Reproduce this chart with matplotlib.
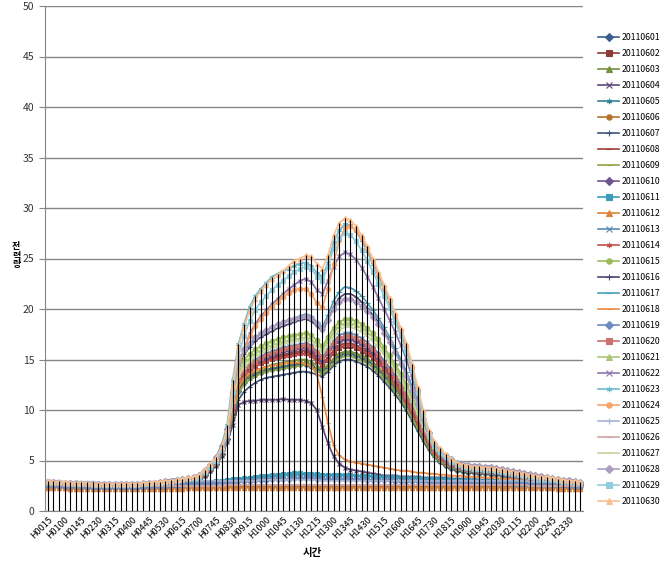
import numpy as np
import matplotlib
matplotlib.use("Agg")
import matplotlib.pyplot as plt

plt.rcParams['font.family'] = ['Noto Sans CJK KR', 'DejaVu Sans']

# 시간 구분 (15분 간격, 96개)
times = ("H0015 H0030 H0045 H0100 H0115 H0130 H0145 H0200 H0215 H0230 H0245 H0300 "
         "H0315 H0330 H0345 H0400 H0415 H0430 H0445 H0500 H0515 H0530 H0545 H0600 "
         "H0615 H0630 H0645 H0700 H0715 H0730 H0745 H0800 H0815 H0830 H0845 H0900 "
         "H0915 H0930 H0945 H1000 H1015 H1030 H1045 H1100 H1115 H1130 H1145 H1200 "
         "H1215 H1230 H1245 H1300 H1315 H1330 H1345 H1400 H1415 H1430 H1445 H1500 "
         "H1515 H1530 H1545 H1600 H1615 H1630 H1645 H1700 H1715 H1730 H1745 H1800 "
         "H1815 H1830 H1845 H1900 H1915 H1930 H1945 H2000 H2015 H2030 H2045 H2100 "
         "H2115 H2130 H2145 H2200 H2215 H2230 H2245 H2300 H2315 H2330 H2345 H2400").split()

dates = ['201106%02d' % d for d in range(1, 31)]

# 일자별 전력량
d01 = [2.7,2.7,2.6,2.6,2.6,2.6,2.5,2.5,2.5,2.5,2.5,2.5,2.5,2.5,2.5,2.5,2.5,2.5,2.6,2.6,2.7,2.7,2.8,2.8,2.9,3.0,3.1,
       3.2,3.6,4.1,4.7,5.6,7.1,9.6,11.9,12.8,
       13.3,13.6,13.8,14.0,14.1,14.2,14.3,14.4,14.5,14.6,14.6,14.4,
       14.1,13.8,14.3,14.9,15.4,
       15.6,15.6,15.4,15.2,14.9,14.5,
       14.0,13.4,12.8,12.1,11.4,10.5,9.5,8.5,7.4,6.4,5.6,5.0,
       4.6,4.3,4.1,4.0,3.9,3.9,3.8,3.8,3.7,3.7,3.6,3.5,3.4,3.3,3.2,3.1,3.0,3.0,2.9,2.9,2.8,2.8,2.7,2.7,2.6]
d02 = [2.8,2.7,2.7,2.7,2.6,2.6,2.6,2.6,2.6,2.5,2.5,2.5,2.5,2.5,2.5,2.5,2.5,2.6,2.6,2.7,2.7,2.8,2.9,2.9,3.0,3.1,3.2,
       3.4,3.8,4.3,4.9,5.9,7.5,10.2,12.6,13.5,
       14.0,14.4,14.7,14.9,15.1,15.2,15.3,15.4,15.5,15.6,15.6,15.4,
       14.9,14.4,15.0,15.6,16.1,
       16.3,16.3,16.1,15.8,15.5,15.1,
       14.6,14.0,13.4,12.7,11.9,11.0,9.9,8.8,7.7,6.7,5.8,5.2,
       4.8,4.5,4.3,4.2,4.1,4.1,4.0,4.0,3.9,3.9,3.8,3.7,3.6,3.5,3.4,3.3,3.2,3.1,3.1,3.0,2.9,2.9,2.8,2.8,2.7]
d03 = [2.7,2.7,2.6,2.6,2.6,2.6,2.6,2.5,2.5,2.5,2.5,2.5,2.5,2.5,2.5,2.5,2.5,2.6,2.6,2.6,2.7,2.7,2.8,2.9,3.0,3.0,3.1,
       3.3,3.7,4.2,4.8,5.7,7.2,9.8,12.1,13.0,
       13.5,13.9,14.1,14.3,14.5,14.6,14.7,14.8,14.9,15.0,15.0,14.8,
       14.4,14.0,14.5,15.1,15.6,
       15.8,15.8,15.6,15.4,15.1,14.7,
       14.2,13.6,13.0,12.3,11.6,10.7,9.7,8.6,7.5,6.5,5.7,5.1,
       4.7,4.4,4.2,4.1,4.0,4.0,3.9,3.9,3.8,3.8,3.7,3.6,3.5,3.4,3.3,3.2,3.1,3.0,3.0,2.9,2.9,2.8,2.8,2.7,2.7]
d04 = [2.7,2.6,2.6,2.6,2.6,2.5,2.5,2.5,2.5,2.5,2.5,2.5,2.5,2.5,2.5,2.5,2.5,2.5,2.6,2.6,2.6,2.7,2.7,2.8,2.8,2.9,3.0,
       3.1,3.5,4.0,4.5,5.4,6.8,8.5,10.5,10.8,
       10.9,10.9,11.0,11.0,11.0,11.0,11.1,11.0,11.0,11.0,10.9,10.7,
       10.0,8.3,6.7,5.4,4.7,
       4.3,4.1,4.0,3.9,3.8,3.7,
       3.6,3.5,3.5,3.5,3.4,3.4,3.4,3.4,3.3,3.3,3.3,3.3,
       3.3,3.2,3.2,3.2,3.2,3.1,3.1,3.1,3.1,3.0,3.0,3.0,3.0,2.9,2.9,2.9,2.8,2.8,2.8,2.8,2.7,2.7,2.7,2.7,2.6]
d05 = [2.7,2.7,2.6,2.6,2.6,2.6,2.6,2.5,2.5,2.5,2.5,2.5,2.5,2.5,2.5,2.5,2.5,2.5,2.6,2.6,2.6,2.6,2.7,2.7,2.7,2.8,2.8,
       2.8,2.9,2.9,3.0,3.0,3.0,3.1,3.1,3.2,
       3.2,3.3,3.3,3.4,3.4,3.5,3.5,3.6,3.6,3.6,3.6,3.5,
       3.5,3.5,3.5,3.5,3.5,
       3.5,3.5,3.5,3.4,3.4,3.4,
       3.4,3.3,3.3,3.3,3.2,3.2,3.2,3.2,3.1,3.1,3.1,3.1,
       3.1,3.1,3.0,3.0,3.0,3.0,3.0,3.0,2.9,2.9,2.9,2.9,2.9,2.8,2.8,2.8,2.8,2.8,2.7,2.7,2.7,2.7,2.7,2.6,2.6]
d06 = [2.4,2.4,2.4,2.3,2.3,2.3,2.3,2.3,2.3,2.3,2.3,2.3,2.3,2.3,2.3,2.3,2.3,2.3,2.3,2.3,2.3,2.3,2.3,2.3,2.3,2.3,2.3,
       2.3,2.3,2.3,2.3,2.4,2.4,2.4,2.4,2.4,
       2.4,2.4,2.4,2.4,2.4,2.4,2.4,2.4,2.4,2.4,2.4,2.4,
       2.4,2.4,2.4,2.4,2.4,
       2.4,2.4,2.4,2.4,2.4,2.4,
       2.4,2.4,2.4,2.4,2.4,2.4,2.4,2.4,2.4,2.4,2.4,2.4,
       2.4,2.4,2.4,2.4,2.4,2.4,2.4,2.4,2.4,2.4,2.4,2.4,2.4,2.4,2.4,2.4,2.3,2.3,2.3,2.3,2.3,2.3,2.3,2.3,2.3]
d07 = [2.6,2.6,2.5,2.5,2.5,2.5,2.4,2.4,2.4,2.4,2.4,2.4,2.4,2.4,2.4,2.4,2.4,2.4,2.5,2.5,2.6,2.6,2.7,2.7,2.8,2.9,3.0,
       3.1,3.5,4.0,4.5,5.4,6.8,9.0,11.0,11.8,
       12.3,12.7,13.0,13.2,13.3,13.4,13.5,13.6,13.7,13.8,13.8,13.7,
       13.5,13.3,13.8,14.4,14.8,
       15.0,15.0,14.8,14.6,14.3,13.9,
       13.4,12.8,12.2,11.5,10.8,9.9,8.9,7.9,6.9,6.0,5.3,4.8,
       4.4,4.2,4.0,3.9,3.8,3.8,3.7,3.7,3.6,3.6,3.5,3.4,3.3,3.2,3.1,3.0,2.9,2.9,2.8,2.8,2.7,2.7,2.6,2.6,2.5]
d08 = [2.8,2.8,2.7,2.7,2.7,2.6,2.6,2.6,2.6,2.6,2.5,2.5,2.5,2.5,2.5,2.5,2.6,2.6,2.6,2.7,2.7,2.8,2.9,2.9,3.0,3.1,3.2,
       3.4,3.8,4.3,4.9,6.0,7.5,10.2,12.7,13.6,
       14.1,14.5,14.8,15.0,15.2,15.4,15.5,15.6,15.7,15.8,15.9,15.7,
       15.1,14.6,15.2,15.9,16.4,
       16.6,16.6,16.4,16.1,15.8,15.4,
       14.9,14.3,13.6,12.9,12.1,11.2,10.1,9.0,7.8,6.8,5.9,5.3,
       4.9,4.6,4.4,4.3,4.2,4.2,4.1,4.1,4.0,4.0,3.9,3.8,3.7,3.6,3.5,3.4,3.3,3.2,3.1,3.0,3.0,2.9,2.9,2.8,2.8]
d09 = [2.6,2.6,2.6,2.5,2.5,2.5,2.5,2.5,2.4,2.4,2.4,2.4,2.4,2.4,2.4,2.4,2.5,2.5,2.5,2.6,2.6,2.7,2.7,2.8,2.9,3.0,3.1,
       3.2,3.6,4.1,4.6,5.5,7.0,9.4,11.6,12.5,
       13.0,13.3,13.6,13.8,13.9,14.0,14.1,14.2,14.3,14.4,14.5,14.3,
       13.9,13.6,14.0,14.6,15.1,
       15.3,15.3,15.1,14.9,14.6,14.2,
       13.7,13.1,12.5,11.8,11.1,10.2,9.2,8.2,7.2,6.2,5.4,4.9,
       4.5,4.3,4.1,4.0,3.9,3.9,3.8,3.8,3.7,3.7,3.6,3.5,3.4,3.3,3.2,3.1,3.0,2.9,2.9,2.8,2.8,2.7,2.7,2.6,2.6]
d10 = [2.8,2.8,2.7,2.7,2.7,2.7,2.6,2.6,2.6,2.6,2.6,2.6,2.5,2.5,2.5,2.6,2.6,2.6,2.7,2.7,2.8,2.8,2.9,3.0,3.0,3.1,3.2,
       3.4,3.9,4.4,5.0,6.0,7.6,10.4,12.9,13.8,
       14.3,14.7,15.0,15.2,15.4,15.6,15.8,15.9,16.0,16.1,16.2,16.0,
       15.5,15.0,15.6,16.3,16.8,
       17.0,17.0,16.8,16.5,16.1,15.7,
       15.2,14.5,13.8,13.1,12.3,11.3,10.2,9.1,7.9,6.8,6.0,5.4,
       5.0,4.7,4.5,4.4,4.3,4.2,4.2,4.1,4.1,4.0,3.9,3.8,3.7,3.6,3.5,3.4,3.3,3.2,3.1,3.1,3.0,2.9,2.9,2.8,2.8]
d11 = [2.6,2.6,2.6,2.5,2.5,2.5,2.5,2.5,2.5,2.4,2.4,2.4,2.4,2.4,2.4,2.4,2.4,2.5,2.5,2.5,2.5,2.6,2.6,2.6,2.7,2.7,2.8,
       2.8,2.9,2.9,3.0,3.0,3.1,3.2,3.2,3.3,
       3.3,3.4,3.5,3.5,3.6,3.6,3.7,3.7,3.8,3.8,3.7,3.7,
       3.7,3.6,3.6,3.6,3.6,
       3.6,3.6,3.5,3.5,3.5,3.5,
       3.4,3.4,3.4,3.4,3.3,3.3,3.3,3.3,3.2,3.2,3.2,3.2,
       3.2,3.1,3.1,3.1,3.1,3.1,3.0,3.0,3.0,3.0,3.0,2.9,2.9,2.9,2.9,2.8,2.8,2.8,2.8,2.7,2.7,2.7,2.7,2.6,2.6]
d12 = [2.3,2.3,2.3,2.3,2.2,2.2,2.2,2.2,2.2,2.2,2.2,2.2,2.2,2.2,2.2,2.2,2.2,2.2,2.2,2.2,2.2,2.2,2.2,2.2,2.2,2.3,2.3,
       2.3,2.3,2.3,2.3,2.3,2.3,2.3,2.3,2.3,
       2.3,2.3,2.3,2.3,2.3,2.3,2.3,2.3,2.3,2.3,2.3,2.3,
       2.3,2.3,2.3,2.3,2.3,
       2.3,2.3,2.3,2.3,2.3,2.3,
       2.3,2.3,2.3,2.3,2.3,2.3,2.3,2.3,2.3,2.3,2.3,2.3,
       2.3,2.3,2.3,2.3,2.3,2.3,2.3,2.3,2.3,2.3,2.3,2.3,2.3,2.3,2.3,2.3,2.3,2.3,2.3,2.3,2.2,2.2,2.2,2.2,2.2]
d13 = [2.8,2.8,2.7,2.7,2.7,2.7,2.7,2.6,2.6,2.6,2.6,2.6,2.6,2.6,2.6,2.6,2.6,2.7,2.7,2.8,2.8,2.9,2.9,3.0,3.1,3.2,3.3,
       3.5,3.9,4.4,5.1,6.1,7.7,10.5,13.1,14.0,
       14.5,15.0,15.3,15.6,15.8,16.0,16.2,16.3,16.4,16.5,16.6,16.4,
       15.8,15.3,16.0,16.8,17.4,
       17.6,17.6,17.4,17.1,16.7,16.2,
       15.6,14.9,14.2,13.4,12.6,11.6,10.5,9.3,8.1,7.0,6.1,5.5,
       5.1,4.8,4.6,4.5,4.4,4.3,4.3,4.2,4.2,4.1,4.0,3.9,3.8,3.7,3.6,3.5,3.4,3.3,3.2,3.1,3.1,3.0,2.9,2.9,2.8]
d14 = [2.7,2.7,2.7,2.6,2.6,2.6,2.6,2.6,2.5,2.5,2.5,2.5,2.5,2.5,2.5,2.5,2.6,2.6,2.6,2.7,2.7,2.8,2.8,2.9,3.0,3.1,3.2,
       3.3,3.8,4.3,4.9,5.9,7.4,10.1,12.5,13.4,
       13.9,14.3,14.6,14.8,15.0,15.1,15.2,15.3,15.4,15.5,15.5,15.3,
       14.8,14.4,15.0,15.7,16.2,
       16.4,16.4,16.2,15.9,15.6,15.2,
       14.6,14.0,13.3,12.6,11.8,10.9,9.8,8.7,7.6,6.6,5.8,5.2,
       4.8,4.5,4.3,4.2,4.1,4.1,4.0,4.0,3.9,3.9,3.8,3.7,3.6,3.5,3.4,3.3,3.2,3.1,3.0,3.0,2.9,2.9,2.8,2.8,2.7]
d15 = [2.9,2.9,2.8,2.8,2.8,2.8,2.7,2.7,2.7,2.7,2.7,2.7,2.6,2.6,2.7,2.7,2.7,2.7,2.8,2.8,2.9,3.0,3.0,3.1,3.2,3.3,3.4,
       3.5,4.0,4.6,5.2,6.3,8.0,11.3,14.0,15.0,
       15.5,16.0,16.3,16.6,16.8,17.0,17.2,17.3,17.4,17.5,17.6,17.4,
       16.9,16.3,17.2,18.1,18.7,
       19.0,19.0,18.8,18.5,18.1,17.6,
       17.0,16.2,15.4,14.5,13.6,12.5,11.3,10.0,8.7,7.5,6.5,5.8,
       5.4,5.1,4.8,4.7,4.6,4.5,4.5,4.4,4.4,4.3,4.2,4.1,4.0,3.9,3.8,3.7,3.6,3.5,3.4,3.3,3.2,3.1,3.1,3.0,2.9]
d16 = [2.9,2.9,2.8,2.8,2.8,2.8,2.8,2.7,2.7,2.7,2.7,2.7,2.7,2.7,2.7,2.7,2.7,2.8,2.8,2.9,2.9,3.0,3.1,3.1,3.2,3.3,3.4,
       3.6,4.1,4.6,5.3,6.4,8.1,11.6,14.4,15.5,
       16.2,16.8,17.2,17.5,17.8,18.1,18.3,18.5,18.7,18.9,19.0,18.8,
       18.3,17.8,18.9,20.2,21.1,
       21.5,21.5,21.2,20.7,20.1,19.4,
       18.7,17.8,16.8,15.8,14.7,13.5,12.1,10.6,9.1,7.7,6.6,5.9,
       5.4,5.1,4.8,4.7,4.6,4.5,4.5,4.4,4.4,4.3,4.2,4.1,4.0,3.9,3.8,3.7,3.6,3.5,3.4,3.3,3.2,3.1,3.1,3.0,2.9]
d17 = [3.0,2.9,2.9,2.8,2.8,2.8,2.8,2.8,2.7,2.7,2.7,2.7,2.7,2.7,2.7,2.7,2.8,2.8,2.8,2.9,2.9,3.0,3.1,3.2,3.2,3.3,3.4,
       3.6,4.1,4.7,5.3,6.5,8.2,11.8,14.7,15.8,
       16.5,17.1,17.5,17.9,18.2,18.5,18.7,18.9,19.1,19.3,19.5,19.3,
       18.7,18.2,19.4,20.8,21.7,
       22.2,22.1,21.8,21.3,20.6,19.9,
       19.1,18.2,17.2,16.1,15.0,13.8,12.3,10.8,9.2,7.8,6.7,5.9,
       5.4,5.1,4.8,4.7,4.6,4.5,4.5,4.4,4.4,4.3,4.2,4.1,4.0,3.9,3.8,3.7,3.6,3.5,3.4,3.3,3.2,3.1,3.1,3.0,2.9]
d18 = [2.7,2.7,2.6,2.6,2.6,2.6,2.5,2.5,2.5,2.5,2.5,2.5,2.5,2.5,2.5,2.5,2.5,2.6,2.6,2.6,2.7,2.7,2.8,2.8,2.9,3.0,3.1,
       3.2,3.6,4.1,4.7,5.7,7.2,9.8,12.2,13.2,
       13.6,13.9,14.1,14.3,14.4,14.5,14.6,14.7,14.7,14.7,14.6,14.4,
       13.5,11.3,8.7,6.5,5.5,
       5.1,4.9,4.8,4.7,4.6,4.5,
       4.4,4.3,4.2,4.1,4.0,4.0,3.9,3.8,3.8,3.7,3.7,3.6,
       3.6,3.5,3.5,3.5,3.4,3.4,3.4,3.3,3.3,3.3,3.2,3.2,3.2,3.1,3.1,3.0,3.0,2.9,2.9,2.9,2.8,2.8,2.8,2.7,2.7]
d19 = [2.6,2.6,2.5,2.5,2.5,2.5,2.5,2.4,2.4,2.4,2.4,2.4,2.4,2.4,2.4,2.4,2.4,2.4,2.5,2.5,2.5,2.5,2.6,2.6,2.6,2.7,2.7,
       2.7,2.8,2.8,2.8,2.9,2.9,2.9,3.0,3.0,
       3.0,3.1,3.1,3.1,3.2,3.2,3.2,3.2,3.3,3.3,3.3,3.3,
       3.2,3.2,3.2,3.2,3.2,
       3.2,3.2,3.2,3.2,3.1,3.1,
       3.1,3.1,3.1,3.0,3.0,3.0,3.0,3.0,3.0,2.9,2.9,2.9,
       2.9,2.9,2.9,2.9,2.9,2.8,2.8,2.8,2.8,2.8,2.8,2.8,2.7,2.7,2.7,2.7,2.7,2.6,2.6,2.6,2.6,2.6,2.5,2.5,2.5]
d20 = [2.8,2.8,2.8,2.7,2.7,2.7,2.7,2.6,2.6,2.6,2.6,2.6,2.6,2.6,2.6,2.6,2.6,2.7,2.7,2.7,2.8,2.8,2.9,3.0,3.1,3.2,3.3,
       3.4,3.9,4.4,5.0,6.1,7.7,10.4,13.0,13.9,
       14.4,14.8,15.1,15.4,15.6,15.8,16.0,16.1,16.2,16.3,16.4,16.2,
       15.7,15.2,15.8,16.6,17.1,
       17.3,17.3,17.1,16.8,16.4,16.0,
       15.4,14.7,14.0,13.2,12.4,11.4,10.3,9.2,8.0,6.9,6.0,5.4,
       5.0,4.7,4.5,4.4,4.3,4.3,4.2,4.2,4.1,4.1,4.0,3.9,3.8,3.7,3.6,3.5,3.4,3.3,3.2,3.1,3.0,3.0,2.9,2.9,2.8]
d21 = [2.9,2.8,2.8,2.8,2.8,2.7,2.7,2.7,2.7,2.7,2.6,2.6,2.6,2.6,2.6,2.7,2.7,2.7,2.8,2.8,2.9,2.9,3.0,3.1,3.2,3.2,3.3,
       3.5,4.0,4.5,5.2,6.3,7.9,11.0,13.6,14.6,
       15.1,15.6,15.9,16.2,16.4,16.6,16.8,16.9,17.0,17.1,17.2,17.0,
       16.5,16.0,16.8,17.7,18.3,
       18.6,18.6,18.4,18.1,17.7,17.2,
       16.6,15.8,15.0,14.2,13.3,12.2,11.0,9.8,8.5,7.3,6.3,5.7,
       5.3,5.0,4.8,4.6,4.5,4.5,4.4,4.4,4.3,4.3,4.2,4.1,4.0,3.9,3.8,3.7,3.6,3.5,3.4,3.3,3.2,3.1,3.0,3.0,2.9]
d22 = [2.8,2.8,2.7,2.7,2.7,2.7,2.6,2.6,2.6,2.6,2.6,2.6,2.6,2.6,2.6,2.6,2.6,2.6,2.7,2.7,2.8,2.8,2.9,3.0,3.1,3.2,3.3,
       3.4,3.8,4.3,4.8,5.7,7.2,11.0,14.3,16.0,
       17.5,18.5,19.3,19.9,20.5,21.0,21.5,22.0,22.4,22.8,23.0,22.7,
       21.9,21.5,22.8,24.2,25.2,
       25.6,25.4,24.9,24.1,23.2,22.2,
       21.1,20.0,18.9,17.7,16.4,15.0,13.2,11.2,9.1,7.3,6.2,5.5,
       5.0,4.6,4.4,4.2,4.1,4.0,4.0,3.9,3.9,3.8,3.7,3.6,3.5,3.4,3.4,3.3,3.2,3.1,3.1,3.0,2.9,2.9,2.8,2.8,2.7]
d23 = [2.9,2.9,2.8,2.8,2.8,2.8,2.7,2.7,2.7,2.7,2.7,2.7,2.6,2.6,2.6,2.6,2.7,2.7,2.8,2.8,2.9,2.9,3.0,3.1,3.2,3.3,3.4,
       3.5,4.0,4.6,5.3,6.5,8.5,13.0,16.5,18.5,
       20.2,21.3,22.0,22.6,23.2,23.5,23.8,24.0,24.3,24.5,24.6,24.3,
       23.6,23.2,24.6,26.6,27.8,
       28.4,28.3,27.7,26.8,25.7,24.5,
       23.2,21.9,20.6,19.1,17.6,16.0,14.0,11.8,9.6,7.7,6.6,5.9,
       5.3,4.9,4.6,4.5,4.4,4.3,4.3,4.2,4.2,4.1,4.0,3.9,3.8,3.7,3.6,3.5,3.4,3.3,3.3,3.2,3.1,3.0,3.0,2.9,2.9]
d24 = [3.0,2.9,2.9,2.8,2.8,2.8,2.8,2.7,2.7,2.7,2.7,2.7,2.7,2.7,2.7,2.7,2.7,2.7,2.8,2.8,2.9,2.9,3.0,3.1,3.2,3.3,3.4,
       3.5,4.0,4.5,5.0,6.0,7.5,11.0,14.0,16.0,
       17.3,18.3,19.0,19.6,20.2,20.7,21.2,21.6,21.9,22.0,22.0,21.5,
       20.6,20.2,22.0,24.5,26.8,
       28.0,28.2,27.8,27.0,26.0,24.8,
       23.5,22.2,20.9,19.4,17.9,16.3,14.3,12.0,9.8,7.8,6.7,6.0,
       5.5,5.0,4.7,4.5,4.4,4.3,4.3,4.2,4.2,4.1,4.0,3.9,3.8,3.7,3.6,3.5,3.4,3.3,3.3,3.2,3.1,3.0,2.9,2.9,2.8]
d25 = [3.0,3.0,3.0,2.9,2.9,2.9,2.9,2.9,2.9,2.8,2.8,2.8,2.8,2.8,2.8,2.8,2.8,2.8,2.9,2.9,2.9,2.9,3.0,3.0,3.0,3.0,3.0,
       3.0,3.0,3.0,3.0,3.0,3.0,3.0,3.0,3.0,
       3.0,3.0,3.1,3.1,3.1,3.1,3.1,3.1,3.1,3.1,3.1,3.1,
       3.1,3.0,3.0,3.0,3.0,
       3.0,3.0,3.0,3.0,3.0,3.0,
       3.0,3.0,3.0,3.0,3.0,3.0,3.0,3.0,3.0,3.0,3.0,3.0,
       3.0,3.0,3.0,3.0,3.0,3.0,3.0,3.0,3.0,3.0,3.0,3.0,3.0,3.0,3.0,2.9,2.9,2.9,2.9,2.9,2.9,2.9,2.9,2.9,2.9]
d26 = [2.6,2.6,2.6,2.5,2.5,2.5,2.5,2.5,2.5,2.5,2.5,2.5,2.5,2.5,2.5,2.5,2.5,2.5,2.5,2.5,2.5,2.5,2.5,2.5,2.5,2.5,2.5,
       2.5,2.5,2.5,2.5,2.5,2.6,2.6,2.6,2.6,
       2.6,2.6,2.6,2.6,2.6,2.6,2.6,2.6,2.6,2.6,2.6,2.6,
       2.6,2.6,2.6,2.6,2.6,
       2.6,2.6,2.6,2.6,2.6,2.6,
       2.6,2.6,2.6,2.6,2.6,2.6,2.6,2.6,2.6,2.6,2.6,2.6,
       2.6,2.6,2.6,2.6,2.6,2.6,2.6,2.6,2.6,2.6,2.6,2.6,2.6,2.6,2.6,2.5,2.5,2.5,2.5,2.5,2.5,2.5,2.5,2.5,2.5]
d27 = [2.9,2.8,2.8,2.8,2.7,2.7,2.7,2.7,2.7,2.6,2.6,2.6,2.6,2.6,2.6,2.6,2.7,2.7,2.7,2.8,2.8,2.9,3.0,3.0,3.1,3.2,3.3,
       3.5,4.0,4.5,5.1,6.2,7.8,10.7,13.3,14.2,
       14.8,15.3,15.6,15.9,16.1,16.3,16.5,16.7,16.8,16.9,17.0,16.8,
       16.2,15.6,16.4,17.3,17.9,
       18.2,18.2,18.0,17.7,17.3,16.8,
       16.2,15.5,14.7,13.9,13.0,12.0,10.8,9.6,8.3,7.2,6.2,5.6,
       5.2,4.9,4.7,4.5,4.4,4.4,4.3,4.3,4.2,4.2,4.1,4.0,3.9,3.8,3.7,3.6,3.5,3.4,3.3,3.2,3.1,3.0,3.0,2.9,2.9]
d28 = [2.9,2.9,2.8,2.8,2.8,2.8,2.7,2.7,2.7,2.7,2.7,2.7,2.7,2.7,2.7,2.7,2.7,2.8,2.8,2.8,2.9,3.0,3.0,3.1,3.2,3.3,3.4,
       3.6,4.1,4.6,5.3,6.4,8.1,11.8,14.8,16.0,
       16.6,17.2,17.6,17.9,18.2,18.5,18.7,18.9,19.0,19.2,19.3,19.1,
       18.6,18.0,18.9,20.0,20.7,
       21.0,21.0,20.7,20.3,19.8,19.2,
       18.5,17.6,16.7,15.7,14.6,13.4,12.0,10.6,9.1,7.7,6.6,5.9,
       5.4,5.1,4.8,4.7,4.6,4.5,4.5,4.4,4.4,4.3,4.2,4.1,4.0,3.9,3.8,3.7,3.6,3.5,3.4,3.3,3.2,3.1,3.1,3.0,2.9]
d29 = [2.9,2.8,2.8,2.8,2.7,2.7,2.7,2.7,2.6,2.6,2.6,2.6,2.6,2.6,2.6,2.6,2.6,2.7,2.7,2.8,2.8,2.9,2.9,3.0,3.1,3.2,3.3,
       3.4,3.9,4.4,5.0,6.0,7.6,11.8,15.3,17.3,
       18.8,19.9,20.7,21.3,21.9,22.4,22.8,23.3,23.7,24.0,24.2,24.0,
       23.2,22.8,24.2,26.0,27.0,
       27.5,27.3,26.7,25.8,24.8,23.7,
       22.5,21.3,20.1,18.7,17.3,15.8,13.9,11.7,9.5,7.6,6.5,5.8,
       5.3,4.9,4.6,4.4,4.3,4.2,4.2,4.1,4.1,4.0,3.9,3.8,3.7,3.6,3.5,3.4,3.3,3.2,3.2,3.1,3.0,2.9,2.9,2.8,2.8]
d30 = [3.0,2.9,2.9,2.9,2.8,2.8,2.8,2.8,2.7,2.7,2.7,2.7,2.7,2.7,2.7,2.7,2.7,2.8,2.8,2.9,2.9,3.0,3.0,3.1,3.2,3.3,3.4,
       3.6,4.1,4.7,5.2,6.3,8.0,12.5,16.2,18.2,
       19.8,21.0,21.8,22.4,23.0,23.4,23.8,24.3,24.8,25.0,25.3,25.2,
       24.5,24.0,25.3,27.3,28.5,
       29.0,28.8,28.2,27.3,26.2,25.0,
       23.7,22.4,21.1,19.6,18.1,16.6,14.6,12.3,10.0,8.0,6.9,6.2,
       5.6,5.1,4.8,4.6,4.5,4.4,4.4,4.3,4.3,4.2,4.1,4.0,3.9,3.8,3.7,3.6,3.5,3.4,3.4,3.3,3.2,3.1,3.0,3.0,2.9]

series = [d01, d02, d03, d04, d05, d06, d07, d08, d09, d10,
          d11, d12, d13, d14, d15, d16, d17, d18, d19, d20,
          d21, d22, d23, d24, d25, d26, d27, d28, d29, d30]

# 엑셀 기본 색상/마커 순서 흉내
colors = ['#3B6090', '#8E3A37', '#73903D', '#5C4878', '#34839A', '#B8722F',
          '#3F5578', '#9E3E3B', '#8BA346', '#6E558D', '#3B9BB8', '#DB843D',
          '#5A88B0', '#C0504D', '#9BBB59', '#4E4472', '#4B9DB8', '#EB8A3E',
          '#6E8AC0', '#CB716E', '#AAC574', '#8C77AA', '#6BBAD0', '#F6A468',
          '#A9B6D3', '#D0A4A3', '#C4D69D', '#AC9EC3', '#93CDDD', '#FAC090']
ast = (6, 2, 0)
markers = ['D', 's', '^', 'x', ast, 'o', '+', '_', '_',
           'D', 's', '^', 'x', ast, 'o', '+', '_', '_',
           'D', 's', '^', 'x', ast, 'o', '+', '_', '_',
           'D', 's', '^']

x = np.arange(len(times))

fig = plt.figure(figsize=(6.65, 5.66), dpi=100)
ax = fig.add_axes([45 / 665, 1 - 511 / 566, 538 / 665, 505 / 566])

for i, vals in enumerate(series):
    m = markers[i]
    ms = 3.2
    if m == '_':
        ms = 4 if (i % 9) == 7 else 2.5
    ax.plot(x, vals, color=colors[i], lw=1.2, marker=m, markersize=ms,
            markeredgewidth=0.8, label=dates[i], zorder=2 + i * 0.01)

# 수직선 (drop lines)
top = np.max(np.array(series), axis=0)
ax.vlines(x, 0, top, color='black', lw=0.8, zorder=4)

ax.set_xlim(-0.5, len(times) - 0.5)
ax.set_ylim(0, 50)
ax.set_yticks(np.arange(0, 51, 5))
ax.grid(axis='y', color='#868686', lw=1.0, zorder=0)
ax.set_axisbelow(True)

ax.set_xticks(x[::3])
ax.set_xticklabels(times[::3], rotation=45, ha='right', rotation_mode='anchor', fontsize=6.5)
ax.tick_params(axis='x', length=0, pad=3)
ax.tick_params(axis='y', labelsize=7.5, length=4, color='#868686', labelcolor='#333333')

for s in ['top', 'right']:
    ax.spines[s].set_visible(False)
for s in ['left', 'bottom']:
    ax.spines[s].set_color('#868686')

fig.text(312 / 665, 1 - 553 / 566, '시간', ha='center', va='center', fontsize=7.5, fontweight='bold')
fig.text(16 / 665, 1 - 256 / 566, '전\n력\n량', ha='center', va='center', fontsize=6.5,
         fontweight='bold', linespacing=1.0)

ax.legend(loc='upper left', bbox_to_anchor=(598 / 665, 1 - 33 / 566), bbox_transform=fig.transFigure,
          frameon=False, fontsize=6.3, handlelength=2.4, handletextpad=0.3,
          labelspacing=0.8, borderaxespad=0, borderpad=0, numpoints=1, markerscale=1.2)

fig.savefig('out.png', dpi=100)
